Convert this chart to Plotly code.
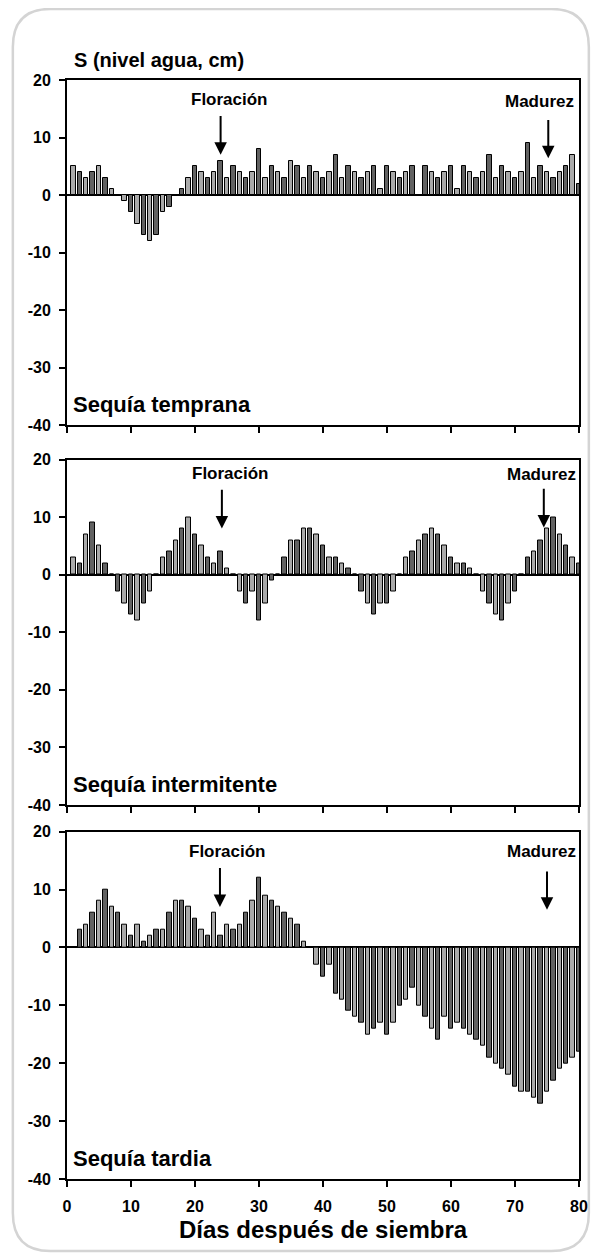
import plotly.graph_objects as go

# ---------------- data ----------------
days = list(range(1, 81))

temprana = [5, 4, 3, 4, 5, 3, 1, 0, -1, -3, -5, -7, -8, -7, -3, -2, 0,
            1, 3, 5, 4, 3, 4, 6, 3, 5, 4, 3, 4, 8, 3, 5, 4, 3, 6, 5, 3, 5, 4, 3,
            4, 7, 3, 5, 4, 3, 4, 5, 1, 5, 4, 3, 4, 5, 0, 5, 4, 3, 4, 5,
            1, 5, 4, 3, 4, 7, 3, 5, 4, 3, 4, 9, 3, 5, 4, 3, 4, 5, 7, 2]

intermitente = [3, 2, 7, 9, 5, 2, 0, -3, -5, -7, -8, -5, -3, 0,
                3, 4, 6, 8, 10, 7, 5, 3, 2, 4, 1, 0,
                -3, -5, -3, -8, -5, -1, 0,
                3, 6, 6, 8, 8, 7, 5, 3, 3, 2, 1, 0,
                -3, -5, -7, -5, -5, -3, 0,
                3, 4, 6, 7, 8, 7, 5, 3, 2, 2, 1, 0,
                -3, -5, -7, -8, -5, -3, 0,
                3, 4, 6, 8, 10, 7, 5, 3, 2]

tardia = [0, 3, 4, 6, 8, 10, 7, 6, 4, 2, 4, 1, 2, 3, 3, 6, 8, 8, 7, 5, 3,
          2, 6, 2, 4, 3, 4, 6, 8, 12, 9, 8, 7, 6, 5, 4, 1, 0,
          -3, -5, -3, -8, -9, -11, -12, -13, -15, -14, -13, -15, -13, -10, -9,
          -7, -10, -12, -14, -16, -12, -14, -13, -14, -15, -16, -17, -19, -20,
          -21, -22, -24, -25, -25, -26, -27, -25, -23, -21, -20, -19, -18]

panel_names = ["Sequía temprana", "Sequía intermitente", "Sequía tardia"]
series = [temprana, intermitente, tardia]

y_ticks = [20, 10, 0, -10, -20, -30, -40]
y_tick_text = ["20", "10", "0", "-10", "-20", "-30", "-40"]
x_ticks = [0, 10, 20, 30, 40, 50, 60, 70, 80]

# event markers (day, text-y, arrow tail y, arrow head y) per panel
flor = [(24, 16.6, 14, 7), (24.2, 17.6, 15, 8), (23.9, 16.5, 14, 7)]
flor_text_x = [25.4, 25.6, 25.1]
madu = [(75.2, 16.2, 13.3, 6.4), (74.5, 17.4, 15.2, 8.2), (75.0, 16.5, 13.4, 6.5)]
madu_text_x = [73.9, 74.2, 74.2]

# ---------------- layout geometry (page pixels) ----------------
PAGE_W, PAGE_H = 600, 1257
BODY = 8                       # default page body margin
FW, FH = PAGE_W - BODY, PAGE_H - BODY
L, R = 67, 587
TOP, BOT = 80, 1179
W = R - L
PH = BOT - TOP


def px(x):
    return (x - L) / W


def py(y):
    return (BOT - y) / PH


panel_px = [(80, 425), (459.5, 805), (831.7, 1179)]

FONT = "Liberation Sans, Arial, Helvetica, sans-serif"
colors = ["#a9a9a9" if d % 2 else "#626262" for d in days]

fig = go.Figure()
annotations = []

for i, (vals, name) in enumerate(zip(series, panel_names)):
    xa = "x" if i == 0 else f"x{i+1}"
    ya = "y" if i == 0 else f"y{i+1}"
    fig.add_trace(go.Bar(
        x=days, y=vals, width=0.7,
        marker=dict(color=colors, line=dict(color="black", width=1)),
        xaxis=xa, yaxis=ya, showlegend=False, hoverinfo="x+y"))

    top, bot = panel_px[i]
    last = (i == 2)
    fig.update_layout(**{
        ("xaxis" if i == 0 else f"xaxis{i+1}"): dict(
            domain=[0, 1], anchor=ya, range=[0, 80], tickvals=x_ticks,
            ticks="outside", ticklen=6, tickwidth=1.5, tickcolor="black",
            showline=True, linecolor="black", linewidth=2, mirror=True,
            showgrid=False, zeroline=False, showticklabels=last,
            ticklabelstandoff=6,
            tickfont=dict(family=FONT, size=16, color="black", weight="bold"),
        ),
        ("yaxis" if i == 0 else f"yaxis{i+1}"): dict(
            domain=[py(bot), py(top)], anchor=xa, range=[-40, 20],
            tickvals=y_ticks, ticktext=y_tick_text, ticks="outside",
            ticklen=6, tickwidth=1.5, ticklabelstandoff=5,
            tickcolor="black", showline=True, linecolor="black", linewidth=2,
            mirror=True, showgrid=False, zeroline=True, zerolinecolor="black",
            zerolinewidth=1.5,
            tickfont=dict(family=FONT, size=16, color="black", weight="bold"),
        ),
    })

    # panel label
    annotations.append(dict(
        text=name, xref=xa, yref=ya, x=0.7, y=-36.4, xanchor="left",
        yanchor="middle", showarrow=False,
        font=dict(family=FONT, size=22, color="black", weight="bold")))

    # Floración
    fd, fty, ftail, fhead = flor[i]
    annotations.append(dict(
        text="Floración", xref=xa, yref=ya, x=flor_text_x[i], y=fty,
        xanchor="center", yanchor="middle", showarrow=False,
        font=dict(family=FONT, size=17, color="black", weight="bold")))
    annotations.append(dict(
        text="", xref=xa, yref=ya, x=fd, y=fhead, axref=xa, ayref=ya,
        ax=fd, ay=ftail, showarrow=True, arrowhead=2, arrowsize=1.25,
        arrowwidth=2, arrowcolor="black"))

    # Madurez
    md, mty, mtail, mhead = madu[i]
    annotations.append(dict(
        text="Madurez", xref=xa, yref=ya, x=madu_text_x[i], y=mty,
        xanchor="center", yanchor="middle", showarrow=False,
        font=dict(family=FONT, size=17, color="black", weight="bold")))
    annotations.append(dict(
        text="", xref=xa, yref=ya, x=md, y=mhead, axref=xa, ayref=ya,
        ax=md, ay=mtail, showarrow=True, arrowhead=2, arrowsize=1.25,
        arrowwidth=2, arrowcolor="black"))

# y title (top-left)
annotations.append(dict(
    text="S (nivel agua, cm)", xref="paper", yref="paper",
    x=px(72), y=py(60), xanchor="left", yanchor="middle", showarrow=False,
    font=dict(family=FONT, size=20, color="black", weight="bold")))

# x title
annotations.append(dict(
    text="Días después de siembra", xref="paper", yref="paper",
    x=px(328), y=py(1229), xanchor="center", yanchor="middle",
    showarrow=False,
    font=dict(family=FONT, size=24, color="black", weight="bold")))

# rounded outer frame (page pixels)
x0, x1, y0, y1, r = 12, 597, 9, 1251, 38
path = (f"M {px(x0 + r)} {py(y0)} L {px(x1 - r)} {py(y0)} "
        f"Q {px(x1)} {py(y0)} {px(x1)} {py(y0 + r)} "
        f"L {px(x1)} {py(y1 - r)} Q {px(x1)} {py(y1)} {px(x1 - r)} {py(y1)} "
        f"L {px(x0 + r)} {py(y1)} Q {px(x0)} {py(y1)} {px(x0)} {py(y1 - r)} "
        f"L {px(x0)} {py(y0 + r)} Q {px(x0)} {py(y0)} {px(x0 + r)} {py(y0)} Z")

fig.update_layout(
    width=FW, height=FH,
    margin=dict(l=L - BODY, r=PAGE_W - R, t=TOP - BODY, b=PAGE_H - BOT, pad=0),
    paper_bgcolor="white", plot_bgcolor="white",
    bargap=0, annotations=annotations,
    shapes=[dict(type="path", path=path, xref="paper", yref="paper",
                 line=dict(color="#d4d4d4", width=2.5), layer="below")],
    font=dict(family=FONT, color="black"),
)

fig.write_html("out.html")
